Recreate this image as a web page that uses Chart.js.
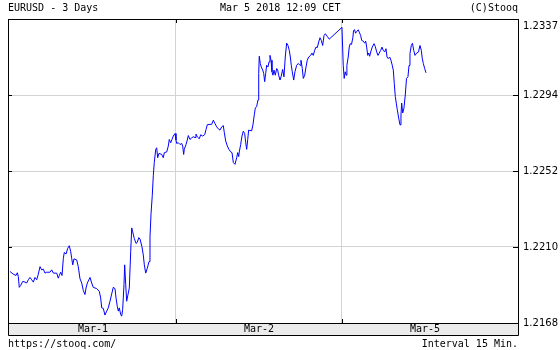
<!DOCTYPE html>
<html>
<head>
<meta charset="utf-8">
<script src="https://cdn.jsdelivr.net/npm/chart.js@4/dist/chart.umd.min.js"></script>
<style>
  html, body { margin: 0; padding: 0; background: #fff; }
  #wrap { position: relative; width: 560px; height: 350px; overflow: hidden; }
  #c { position: absolute; left: 0; top: 0; }
  .t { position: absolute; font: 10px 'DejaVu Sans Mono', monospace; line-height: 12px; color: #000; white-space: pre; }
</style>
</head>
<body>
<div id="wrap">
  <canvas id="c" width="560" height="350"></canvas>
  <div class="t" style="left:8px;top:2px;">EURUSD - 3 Days</div>
  <div class="t" style="left:220px;top:2px;">Mar 5 2018 12:09 CET</div>
  <div class="t" style="right:42px;top:2px;">(C)Stooq</div>
  <div class="t" style="left:8px;top:338px;">https://stooq.com/</div>
  <div class="t" style="right:42px;top:338px;">Interval 15 Min.</div>
</div>
<script>
// Hours since Mar-1 00:00 CET on a trading-day axis (Mar-2 starts at 24, Mar-5 at 48)
const hours = [
  0.00,0.48,0.87,1.06,1.20,1.34,1.55,1.84,2.17,2.41,2.65,2.89,3.14,3.37,3.61,3.86,4.09,4.34,4.58,4.81,
  5.06,5.31,5.78,6.03,6.26,6.75,6.98,7.13,7.33,7.52,7.71,7.85,8.10,8.34,8.57,8.78,8.92,9.07,9.25,9.64,
  9.87,10.12,10.37,10.60,10.84,10.99,11.18,11.57,11.81,12.04,12.53,12.91,13.11,13.26,13.49,13.73,13.98,14.21,14.46,14.70,
  14.93,15.18,15.33,15.51,15.66,15.80,16.00,16.15,16.29,16.48,16.58,16.73,16.87,17.06,17.25,17.45,17.60,17.74,17.97,18.22,
  18.40,18.61,18.80,19.08,19.27,19.42,19.62,19.85,20.10,20.24,20.39,20.57,20.72,20.86,21.07,21.21,21.35,21.54,21.93,22.16,
  22.31,22.66,22.89,23.03,23.23,23.42,23.61,23.86,24.00,24.10,24.33,24.58,24.82,24.97,25.11,25.20,25.45,25.63,25.78,26.02,
  26.27,26.50,26.75,26.89,27.08,27.37,27.57,27.86,28.15,28.34,28.53,28.92,29.16,29.40,29.64,29.89,30.12,30.36,30.61,30.84,
  30.99,31.19,31.42,31.66,31.91,32.10,32.29,32.53,32.78,32.92,33.07,33.15,33.35,33.54,33.73,33.93,34.08,34.22,34.37,34.51,
  34.94,35.13,35.32,35.47,35.67,35.86,35.96,36.04,36.19,36.33,36.54,36.68,36.82,36.97,37.11,37.30,37.45,37.59,37.74,37.88,
  38.02,38.17,38.36,38.56,38.70,38.85,39.04,39.22,39.42,39.61,39.80,40.00,40.19,40.38,40.53,40.67,40.81,41.02,41.20,41.45,
  41.68,41.93,42.07,42.26,42.41,42.61,42.80,42.98,43.19,43.47,43.66,43.85,44.05,44.24,44.43,44.63,44.82,45.01,45.21,45.40,
  45.59,45.88,46.16,
  48.00,48.18,48.32,48.47,48.61,48.71,48.90,49.05,49.19,49.38,49.58,49.67,49.82,49.96,50.16,50.35,50.50,50.70,50.85,51.08,
  51.28,51.43,51.57,51.72,51.86,52.00,52.19,52.38,52.63,52.81,53.02,53.21,53.39,53.60,53.78,53.97,54.17,54.36,54.51,54.69,
  54.90,55.08,55.27,55.42,55.56,55.71,55.85,56.00,56.20,56.39,56.53,56.63,56.78,56.96,57.15,57.33,57.54,57.69,57.83,58.02,
  58.19,58.37,58.56,58.80,59.06,59.28,59.47,59.61,59.76,59.96,60.15
];
const prices = [
  1.21963,1.21948,1.21941,1.21956,1.21935,1.21875,1.21886,1.21908,1.21904,1.21899,1.21917,1.21930,1.21917,1.21904,1.21930,1.21917,1.21948,1.21990,1.21972,1.21976,
  1.21954,1.21959,1.21959,1.21972,1.21954,1.21954,1.21926,1.21941,1.21959,1.21941,1.22036,1.22069,1.22060,1.22091,1.22106,1.22073,1.22036,1.22000,1.22033,1.22027,
  1.21990,1.21923,1.21899,1.21857,1.21835,1.21871,1.21899,1.21930,1.21899,1.21875,1.21868,1.21853,1.21816,1.21761,1.21758,1.21721,1.21743,1.21761,1.21798,1.21838,
  1.21875,1.21868,1.21816,1.21770,1.21743,1.21761,1.21725,1.21715,1.21752,1.21890,1.22000,1.21890,1.21798,1.21835,1.21871,1.22073,1.22205,1.22183,1.22146,1.22119,
  1.22124,1.22151,1.22143,1.22100,1.22055,1.22000,1.21954,1.21981,1.22018,1.22155,1.22283,1.22385,1.22495,1.22568,1.22641,1.22650,1.22595,1.22619,1.22613,1.22595,
  1.22623,1.22627,1.22660,1.22696,1.22678,1.22696,1.22715,1.22729,1.22693,1.22674,1.22678,1.22668,1.22674,1.22660,1.22613,1.22641,1.22668,1.22693,1.22718,1.22696,
  1.22705,1.22711,1.22707,1.22726,1.22711,1.22700,1.22722,1.22715,1.22723,1.22751,1.22778,1.22780,1.22780,1.22803,1.22784,1.22766,1.22755,1.22748,1.22766,1.22773,
  1.22733,1.22687,1.22660,1.22641,1.22627,1.22623,1.22568,1.22558,1.22595,1.22623,1.22601,1.22627,1.22668,1.22715,1.22742,1.22729,1.22678,1.22641,1.22696,1.22748,
  1.22744,1.22778,1.22833,1.22870,1.22880,1.22916,1.23063,1.23158,1.23118,1.23099,1.23081,1.23063,1.23017,1.23063,1.23108,1.23099,1.23127,1.23163,1.23136,1.23072,
  1.23053,1.23081,1.23053,1.23090,1.23081,1.23053,1.23026,1.23048,1.23085,1.23044,1.23154,1.23231,1.23218,1.23191,1.23154,1.23108,1.23072,1.23026,1.23072,1.23108,
  1.23118,1.23108,1.23136,1.23090,1.23035,1.23053,1.23099,1.23136,1.23154,1.23163,1.23176,1.23163,1.23191,1.23209,1.23206,1.23237,1.23261,1.23246,1.23218,1.23273,
  1.23283,1.23268,1.23253,
  1.23319,1.23108,1.23035,1.23072,1.23053,1.23108,1.23154,1.23209,1.23228,1.23224,1.23264,1.23301,1.23306,1.23286,1.23297,1.23305,1.23292,1.23273,1.23246,1.23242,
  1.23231,1.23242,1.23209,1.23163,1.23176,1.23158,1.23187,1.23209,1.23228,1.23213,1.23182,1.23163,1.23176,1.23191,1.23209,1.23191,1.23182,1.23200,1.23154,1.23145,
  1.23154,1.23136,1.23108,1.23081,1.23008,1.22934,1.22898,1.22861,1.22815,1.22777,1.22832,1.22898,1.22843,1.22870,1.22943,1.23035,1.23044,1.23107,1.23173,1.23218,
  1.23230,1.23191,1.23163,1.23176,1.23182,1.23218,1.23191,1.23145,1.23118,1.23090,1.23066
];
const dayLabels = ['Mar-1', 'Mar-2', 'Mar-5'];
const dayLabelHours = [12, 36, 60];
const dayBoundaryHours = [24, 48];
const yTickLabels = ['1.2168', '1.2210', '1.2252', '1.2294', '1.2337'];
const yMin = 1.21677, yMax = 1.23365;
const xMin = -0.29, xMax = 73.45;

const yTickValues = yTickLabels.map((_, i) => yMin + i * (yMax - yMin) / (yTickLabels.length - 1));

const framePlugin = {
  id: 'frame',
  beforeDraw(chart) {
    const { ctx, chartArea: a } = chart;
    ctx.save();
    ctx.fillStyle = '#ffffff';
    ctx.fillRect(0, 0, chart.width, chart.height);
    ctx.fillStyle = '#ebebeb';
    ctx.fillRect(a.left, a.bottom, a.right - a.left, 12);
    ctx.restore();
  },
  afterDraw(chart) {
    const { ctx, chartArea: a } = chart;
    const ys = chart.scales.y, xs = chart.scales.x;
    ctx.save();
    ctx.strokeStyle = '#000';
    ctx.lineWidth = 1;
    ctx.beginPath();
    ctx.rect(a.left + 0.5, a.top + 0.5, a.right - a.left, a.bottom - a.top);
    ctx.moveTo(a.left + 0.5, a.bottom + 0.5);
    ctx.lineTo(a.left + 0.5, a.bottom + 12.5);
    ctx.lineTo(a.right + 0.5, a.bottom + 12.5);
    ctx.lineTo(a.right + 0.5, a.bottom + 0.5);
    yTickValues.forEach(v => {
      const p = Math.round(ys.getPixelForValue(v)) + 0.5;
      ctx.moveTo(a.left, p); ctx.lineTo(a.left + 4, p);
      ctx.moveTo(a.right - 5, p); ctx.lineTo(a.right + 1, p);
    });
    dayBoundaryHours.forEach(v => {
      const p = Math.round(xs.getPixelForValue(v)) + 0.5;
      ctx.moveTo(p, a.top); ctx.lineTo(p, a.top + 4);
      ctx.moveTo(p, a.bottom - 4); ctx.lineTo(p, a.bottom + 1);
    });
    ctx.stroke();
    ctx.restore();
  }
};

new Chart(document.getElementById('c'), {
  type: 'line',
  data: {
    datasets: [{
      data: hours.map((h, i) => ({ x: h, y: prices[i] })),
      borderColor: '#0000ff',
      borderWidth: 1,
      pointRadius: 0,
      tension: 0,
      fill: false
    }]
  },
  options: {
    responsive: false,
    animation: false,
    devicePixelRatio: 1,
    layout: { padding: { left: 8, top: 15, right: 0, bottom: 15 } },
    plugins: { legend: { display: false }, tooltip: { enabled: false } },
    scales: {
      x: {
        type: 'linear',
        min: xMin, max: xMax,
        afterBuildTicks: s => { s.ticks = dayLabelHours.concat(dayBoundaryHours).sort((a, b) => a - b).map(v => ({ value: v })); },
        afterFit: s => { s.height = 12; },
        grid: {
          drawTicks: false,
          color: c => (c.tick && dayBoundaryHours.includes(c.tick.value)) ? '#d3d3d3' : 'rgba(0,0,0,0)'
        },
        border: { display: false },
        ticks: {
          autoSkip: false, maxRotation: 0, minRotation: 0, padding: 0,
          color: '#000',
          font: { family: 'DejaVu Sans Mono', size: 10 },
          callback: v => { const i = dayLabelHours.indexOf(v); return i >= 0 ? dayLabels[i] : ''; }
        }
      },
      y: {
        position: 'right',
        min: yMin, max: yMax,
        afterBuildTicks: s => { s.ticks = yTickValues.map(v => ({ value: v })); },
        afterFit: s => { s.width = 42; },
        grid: { drawTicks: false, color: '#d3d3d3' },
        border: { display: false },
        ticks: {
          padding: 5,
          color: '#000',
          font: { family: 'DejaVu Sans', size: 10, lineHeight: 1.4 },
          callback: (v, i) => i === yTickLabels.length - 1 ? ['', yTickLabels[i]] : yTickLabels[i]
        }
      }
    }
  },
  plugins: [framePlugin]
});
</script>
</body>
</html>
